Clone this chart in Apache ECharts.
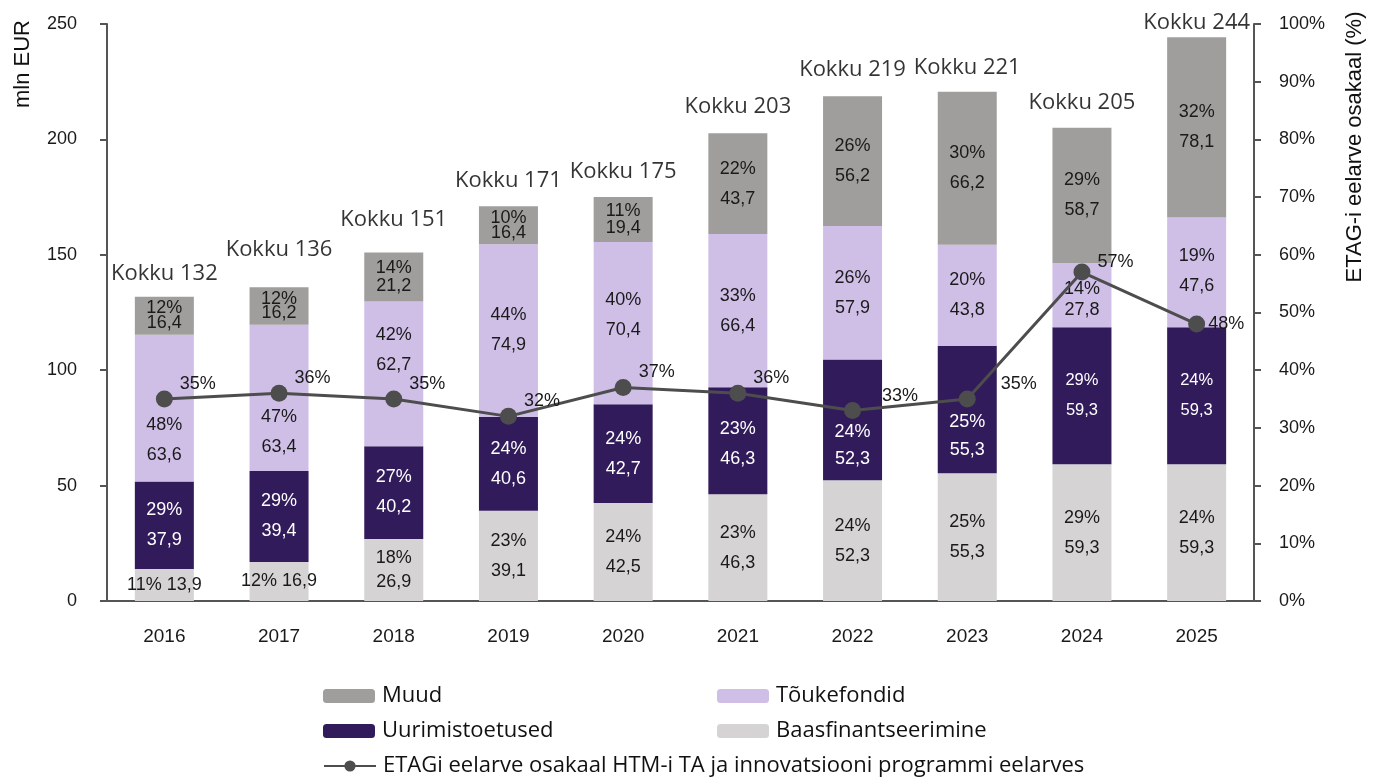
<!DOCTYPE html>
<html>
<head>
<meta charset="utf-8">
<script src="https://cdn.jsdelivr.net/npm/echarts@6/dist/echarts.min.js"></script>
<style>
  html, body { margin: 0; padding: 0; background: #fff; }
  #chart { width: 1381px; height: 778px; }
</style>
</head>
<body>
<div id="chart"></div>
<script>
const years = ['2016', '2017', '2018', '2019', '2020', '2021', '2022', '2023', '2024', '2025']

const baas = [13.9, 16.9, 26.9, 39.1, 42.5, 46.3, 52.3, 55.3, 59.3, 59.3]
const uurimis = [37.9, 39.4, 40.2, 40.6, 42.7, 46.3, 52.3, 55.3, 59.3, 59.3]
const touke = [63.6, 63.4, 62.7, 74.9, 70.4, 66.4, 57.9, 43.8, 27.8, 47.6]
const muud = [16.4, 16.2, 21.2, 16.4, 19.4, 43.7, 56.2, 66.2, 58.7, 78.1]

const baasPct = [11, 12, 18, 23, 24, 23, 24, 25, 29, 24]
const uurimisPct = [29, 29, 27, 24, 24, 23, 24, 25, 29, 24]
const toukePct = [48, 47, 42, 44, 40, 33, 26, 20, 14, 19]
const muudPct = [12, 12, 14, 10, 11, 22, 26, 30, 29, 32]

const totals = [132, 136, 151, 171, 175, 203, 219, 221, 205, 244]
const etagShare = [35, 36, 35, 32, 37, 36, 33, 35, 57, 48]

const EUR_MAX = 250
const PCT_MAX = 100
const GRID = { left: 107, right: 127, top: 24, bottom: 177 }
const unitPx = (778 - GRID.top - GRID.bottom) / EUR_MAX

const fmt = v => v.toFixed(1).replace('.', ',')
const stack = [baas, uurimis, touke, muud]

// where the label of a segment goes: middle of the segment, or the middle of
// the bigger part if the ETAG line runs through it
function segPlace(s, i) {
  let lo = 0
  for (let k = 0; k < s; k++) lo += stack[k][i]
  const hi = lo + stack[s][i]
  const mid = (lo + hi) / 2
  const line = etagShare[i] * EUR_MAX / PCT_MAX
  if (line <= lo || line >= hi) return { dy: 0, room: hi - lo }
  const below = line - lo, above = hi - line
  const c = below >= above ? lo + below / 2 : line + above / 2
  return { dy: (mid - c) * unitPx, room: Math.max(below, above) }
}

function segSeries(name, s, pcts, color, bg, fontSize, oneLineUnder, smallAt) {
  const rich = (lh, fs) => ({
    a: { color: color, fontFamily: 'Liberation Sans', fontSize: fs, lineHeight: lh },
    b: { color: color, fontFamily: 'Liberation Sans', fontSize: fs, lineHeight: lh }
  })
  return {
    name: name, type: 'bar', stack: 'eur', barWidth: 59,
    itemStyle: { color: bg },
    label: {
      show: true, position: 'inside',
      color: color, fontFamily: 'Liberation Sans', fontSize: fontSize,
      formatter: p => {
        const pct = pcts[p.dataIndex] + '%'
        if (p.value < oneLineUnder) return pct + ' ' + fmt(p.value)
        return '{a|' + pct + '}\n{b|' + fmt(p.value) + '}'
      }
    },
    data: stack[s].map((v, i) => {
      const pl = segPlace(s, i)
      const lh = Math.max(14, Math.min(30, pl.room * unitPx / 2.6))
      const fs = (smallAt || []).includes(i) ? 16.5 : fontSize
      return { value: v, label: { offset: [0, pl.dy], rich: rich(lh, fs) } }
    })
  }
}

const axisColor = '#555'
const tickFont = { color: '#1a1a1a', fontFamily: 'Liberation Sans', fontSize: 18 }

const lineName = 'ETAGi eelarve osakaal HTM-i TA ja innovatsiooni programmi eelarves'

const legendRow = (left, top, name) => ({
  left: left, top: top,
  itemWidth: 52, itemHeight: 14, itemGap: 0,
  textStyle: { fontFamily: 'Open Sans', fontSize: 22, lineHeight: 24, color: '#111', padding: [0, 0, 0, 2] },
  data: [name]
})

// small nudges
const kokkuShift = { 0: 3, 1: -12, 2: -7, 7: 2, 9: 10 }
const shareShift = { 6: [14, 0], 7: [18, 0], 8: [0, 5], 9: [-4, 15] }

const chart = echarts.init(document.getElementById('chart'))

chart.setOption({
  animation: false,
  grid: GRID,
  legend: [
    legendRow(318, 679, 'Muud'),
    legendRow(712, 679, 'Tõukefondid'),
    legendRow(318, 714, 'Uurimistoetused'),
    legendRow(712, 714, 'Baasfinantseerimine'),
    legendRow(318, 749, lineName)
  ],
  graphic: [
    {
      type: 'text', x: 23, y: 64, rotation: Math.PI / 2,
      style: { text: 'mln EUR', fontFamily: 'Liberation Sans', fontSize: 22, fill: '#111', align: 'center', verticalAlign: 'middle' }
    },
    {
      type: 'text', x: 1355, y: 147, rotation: Math.PI / 2,
      style: { text: 'ETAG-i eelarve osakaal (%)', fontFamily: 'Liberation Sans', fontSize: 22, fill: '#111', align: 'center', verticalAlign: 'middle' }
    }
  ],
  xAxis: {
    type: 'category',
    data: years,
    axisLine: { lineStyle: { color: axisColor, width: 2 } },
    axisTick: { show: false },
    axisLabel: Object.assign({}, tickFont, { margin: 26, fontSize: 19 })
  },
  yAxis: [
    {
      type: 'value', min: 0, max: EUR_MAX, interval: 50,
      axisLine: { show: true, lineStyle: { color: axisColor, width: 2 } },
      axisTick: { show: true, length: 7, lineStyle: { color: axisColor, width: 2 } },
      axisLabel: Object.assign({ margin: 30 }, tickFont),
      splitLine: { show: false }
    },
    {
      type: 'value', min: 0, max: PCT_MAX, interval: 10, position: 'right',
      axisLine: { show: true, lineStyle: { color: axisColor, width: 2 } },
      axisTick: { show: true, length: 7, lineStyle: { color: axisColor, width: 2 } },
      axisLabel: Object.assign({ margin: 25, formatter: '{value}%' }, tickFont),
      splitLine: { show: false }
    }
  ],
  series: [
    segSeries('Baasfinantseerimine', 0, baasPct, '#1a1a1a', '#d5d3d4', 18, 17),
    segSeries('Uurimistoetused', 1, uurimisPct, '#ffffff', '#321b5b', 18, 0, [8, 9]),
    segSeries('Tõukefondid', 2, toukePct, '#1a1a1a', '#cfbfe7', 18, 0),
    segSeries('Muud', 3, muudPct, '#1a1a1a', '#a09e9c', 18, 0),
    {
      name: 'Kokku', type: 'scatter', symbolSize: 1,
      itemStyle: { color: 'rgba(0,0,0,0)' },
      label: {
        show: true, position: 'top', distance: 14,
        fontFamily: 'Open Sans', fontSize: 22, color: '#000',
        formatter: p => 'Kokku ' + p.value
      },
      data: totals.map((v, i) => ({ value: v, label: { offset: [0, kokkuShift[i] || 0] } }))
    },
    {
      name: lineName, type: 'line', yAxisIndex: 1, z: 5,
      symbol: 'circle', symbolSize: 17,
      lineStyle: { color: '#4d4d4d', width: 3 },
      itemStyle: { color: '#4d4d4d' },
      label: {
        show: true, position: 'right', distance: 7,
        fontFamily: 'Liberation Sans', fontSize: 18, color: '#1a1a1a',
        formatter: p => p.value + '%'
      },
      data: etagShare.map((v, i) => {
        const s = shareShift[i] || [0, 0]
        return { value: v, label: { offset: [s[0], s[1] - 15] } }
      })
    }
  ]
})
</script>
</body>
</html>
